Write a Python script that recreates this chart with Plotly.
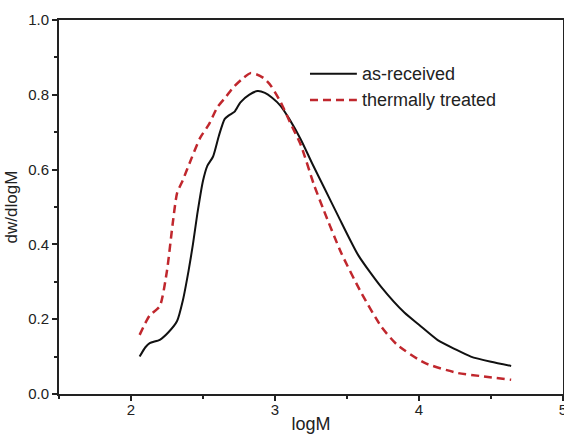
import plotly.graph_objects as go

# as-received
logm_recv = [2.06, 2.10, 2.13, 2.20, 2.26, 2.32, 2.36, 2.40, 2.43, 2.46, 2.50, 2.53,
             2.57, 2.61, 2.65, 2.68, 2.72, 2.76, 2.82, 2.88, 2.93, 2.98, 3.04, 3.10,
             3.18, 3.26, 3.34, 3.44, 3.58, 3.74, 3.90, 4.00, 4.13, 4.25, 4.36, 4.50, 4.64]
dw_recv = [0.10, 0.125, 0.136, 0.145, 0.165, 0.195, 0.25, 0.33, 0.40, 0.48, 0.57, 0.61,
           0.635, 0.69, 0.735, 0.745, 0.755, 0.78, 0.80, 0.81, 0.805, 0.792, 0.77, 0.735,
           0.68, 0.615, 0.553, 0.475, 0.37, 0.285, 0.217, 0.185, 0.144, 0.12, 0.10, 0.086, 0.075]

# thermally treated
logm_heat = [2.06, 2.10, 2.13, 2.20, 2.25, 2.29, 2.32, 2.36, 2.42, 2.48, 2.54, 2.60,
             2.66, 2.71, 2.78, 2.83, 2.87, 2.92, 2.97, 3.04, 3.10, 3.18, 3.27, 3.34,
             3.46, 3.60, 3.74, 3.85, 4.04, 4.27, 4.45, 4.64]
dw_heat = [0.158, 0.19, 0.21, 0.235, 0.33, 0.457, 0.537, 0.572, 0.63, 0.685, 0.72, 0.767,
           0.795, 0.82, 0.845, 0.858, 0.855, 0.845, 0.825, 0.78, 0.73, 0.665, 0.56, 0.49,
           0.377, 0.27, 0.179, 0.131, 0.083, 0.056, 0.047, 0.038]

series_names = ["as-received", "thermally treated"]
series_colors = ["#111111", "#c0272d"]
series_dash = ["solid", "8px,5px"]
series_width = [2, 2.5]
x_ticks = [2, 3, 4, 5]
y_ticks = [0.0, 0.2, 0.4, 0.6, 0.8, 1.0]

FONT = "Liberation Sans, Arial"

fig = go.Figure()
for xs, ys, nm, col, dsh, w in zip([logm_recv, logm_heat], [dw_recv, dw_heat], series_names,
                                   series_colors, series_dash, series_width):
    fig.add_trace(go.Scatter(x=xs, y=ys, mode="lines", name=nm, showlegend=False,
                             line=dict(color=col, width=w, dash=dsh,
                                       shape="spline", smoothing=0.6)))

# manual legend (longer line samples than plotly's built-in legend)
legend_y = [0.856, 0.786]
for nm, col, dsh, w, ly in zip(series_names, series_colors, series_dash, series_width, legend_y):
    fig.add_shape(type="line", xref="paper", yref="paper", x0=0.498, x1=0.591, y0=ly, y1=ly,
                  line=dict(color=col, width=w, dash=dsh))
    fig.add_annotation(xref="paper", yref="paper", x=0.597, y=ly, text=nm, showarrow=False,
                       xanchor="left", yanchor="middle",
                       font=dict(family=FONT, size=18, color="#222222"))

axis_common = dict(showline=True, linecolor="#222222", linewidth=2, mirror=True,
                   ticks="outside", ticklen=5, tickwidth=1.5, tickcolor="#222222",
                   showgrid=False, zeroline=False, automargin=False,
                   ticklabeloverflow="allow",
                   tickfont=dict(family=FONT, size=15, color="#222222"))

fig.update_layout(
    width=564, height=436,
    margin=dict(l=59, r=1, t=20, b=42, autoexpand=False),
    paper_bgcolor="white", plot_bgcolor="white",
    xaxis=dict(range=[1.5, 5], tickvals=x_ticks, ticktext=[str(v) for v in x_ticks],
               ticklabelstandoff=-4,
               minor=dict(dtick=0.5, ticks="outside", ticklen=3, tickcolor="#222222", showgrid=False),
               title=dict(text="logM", standoff=0,
                          font=dict(family=FONT, size=18, color="#222222")),
               **axis_common),
    yaxis=dict(range=[0, 1], tickvals=y_ticks, ticktext=[f"{v:.1f}" for v in y_ticks],
               minor=dict(dtick=0.1, ticks="outside", ticklen=3, tickcolor="#222222", showgrid=False),
               title=dict(text="dw/dlogM", standoff=6,
                          font=dict(family=FONT, size=17, color="#222222")),
               **axis_common),
    showlegend=False,
)

fig.write_html("out.html", config={"displayModeBar": False},
               post_script="document.body.style.margin='0px';document.body.style.overflow='hidden';")
